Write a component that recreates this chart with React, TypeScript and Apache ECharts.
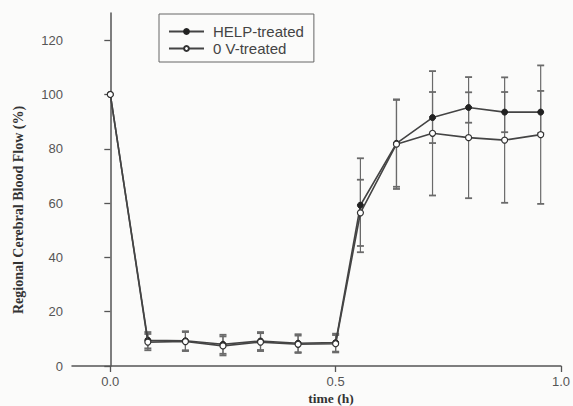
import React, { useEffect, useRef } from "react";
import * as echarts from "echarts";

const seriesNames = ["HELP-treated", "0 V-treated"];
const timesH = [0, 0.0833, 0.1667, 0.25, 0.3333, 0.4167, 0.5, 0.555, 0.635, 0.715, 0.795, 0.875, 0.955];
const helpMean = [100, 9.5, 9.3, 8.0, 9.2, 8.4, 8.6, 59.2, 82, 91.5, 95.2, 93.5, 93.5];
const helpErr = [0, 3, 3.5, 3.5, 3.3, 3.3, 3.3, 17.3, 16, 9.4, 5.6, 7.4, 7.8];
const zeroVMean = [100, 8.8, 9.0, 7.4, 8.8, 8.0, 8.2, 56.4, 81.7, 85.7, 84.1, 83.2, 85.2];
const zeroVErr = [0, 3, 3.5, 3.5, 3.3, 3.2, 3.2, 12.2, 16.5, 22.9, 22.3, 23.1, 25.5];
const yTicks = [0, 20, 40, 60, 80, 100, 120];
const xTicks = [0, 0.5, 1.0];

const pairs = (means: number[]) => timesH.map((t, i) => [t, means[i]]);
const bars = (means: number[], errs: number[]) =>
  timesH
    .map((t, i) => [t, means[i] - errs[i], means[i] + errs[i]])
    .filter((_, i) => errs[i] > 0);

const errRender = (params: any, api: any) => {
  const x = api.value(0);
  const lo = api.coord([x, api.value(1)]);
  const hi = api.coord([x, api.value(2)]);
  const w = 3.5;
  const style = { stroke: "#6a6a6a", lineWidth: 1.2 };
  return {
    type: "group",
    children: [
      { type: "line", shape: { x1: lo[0], y1: lo[1], x2: hi[0], y2: hi[1] }, style },
      { type: "line", shape: { x1: lo[0] - w, y1: lo[1], x2: lo[0] + w, y2: lo[1] }, style: { ...style, lineWidth: 1.8 } },
      { type: "line", shape: { x1: hi[0] - w, y1: hi[1], x2: hi[0] + w, y2: hi[1] }, style: { ...style, lineWidth: 1.8 } },
    ],
  };
};

export default function App() {
  const ref = useRef<HTMLDivElement>(null);
  useEffect(() => {
    if (!ref.current) return;
    const chart = echarts.init(ref.current, undefined, { renderer: "svg" });
    const axisColor = "#555";
    chart.setOption({
      animation: false,
      backgroundColor: "#fbfbfa",
      grid: { left: 72, right: 10, top: 13, bottom: 40 },
      xAxis: {
        type: "value",
        min: -0.085,
        max: 1.0,
        splitLine: { show: false },
        axisLine: { lineStyle: { color: axisColor, width: 1.5 } },
        axisTick: { customValues: xTicks, length: 6, lineStyle: { color: axisColor, width: 1.3 } },
        axisLabel: {
          customValues: xTicks,
          formatter: (v: number) => v.toFixed(1),
          color: "#555",
          fontFamily: "Liberation Sans",
          fontSize: 13,
          margin: 9,
        },
      },
      yAxis: {
        type: "value",
        min: 0,
        max: 130,
        interval: 10,
        splitLine: { show: false },
        axisLine: { show: true, lineStyle: { color: axisColor, width: 1.5 } },
        axisTick: { show: true, customValues: yTicks, length: 6, lineStyle: { color: axisColor, width: 1.3 } },
        axisLabel: {
          customValues: yTicks,
          color: "#555",
          fontFamily: "Liberation Sans",
          fontSize: 13,
          margin: 9,
        },
      },
      legend: {
        data: seriesNames,
        orient: "vertical",
        left: 159,
        top: 14,
        padding: [10, 10, 6, 9],
        itemWidth: 35,
        itemHeight: 6,
        itemGap: 2,
        borderColor: "#666",
        borderWidth: 1,
        textStyle: { color: "#444", fontFamily: "Liberation Sans", fontSize: 15, padding: [0, 0, 0, 4] },
      },
      graphic: [
        {
          type: "text",
          x: 18,
          y: 210,
          rotation: Math.PI / 2,
          style: {
            text: "Regional Cerebral Blood Flow (%)",
            align: "center",
            verticalAlign: "middle",
            fill: "#333",
            font: "bold 14px 'Liberation Serif'",
          },
        },
        {
          type: "text",
          x: 331,
          y: 398,
          style: {
            text: "time (h)",
            align: "center",
            verticalAlign: "middle",
            fill: "#333",
            font: "bold 13.5px 'Liberation Serif'",
          },
        },
      ],
      series: [
        { type: "custom", name: "helpErr", renderItem: errRender, data: bars(helpMean, helpErr), z: 1, silent: true },
        { type: "custom", name: "zeroErr", renderItem: errRender, data: bars(zeroVMean, zeroVErr), z: 1, silent: true },
        {
          type: "line",
          name: seriesNames[0],
          data: pairs(helpMean),
          symbol: "circle",
          symbolSize: 6,
          z: 3,
          lineStyle: { color: "#444", width: 1.6 },
          itemStyle: { color: "#222", borderColor: "#222", borderWidth: 1 },
        },
        {
          type: "line",
          name: seriesNames[1],
          data: pairs(zeroVMean),
          symbol: "circle",
          symbolSize: 6,
          z: 4,
          lineStyle: { color: "#444", width: 1.6 },
          itemStyle: { color: "#fff", borderColor: "#333", borderWidth: 1.2 },
        },
      ],
    });
    return () => chart.dispose();
  }, []);
  return <div ref={ref} style={{ width: 573, height: 406, position: "absolute", left: 0, top: 0 }} />;
}
